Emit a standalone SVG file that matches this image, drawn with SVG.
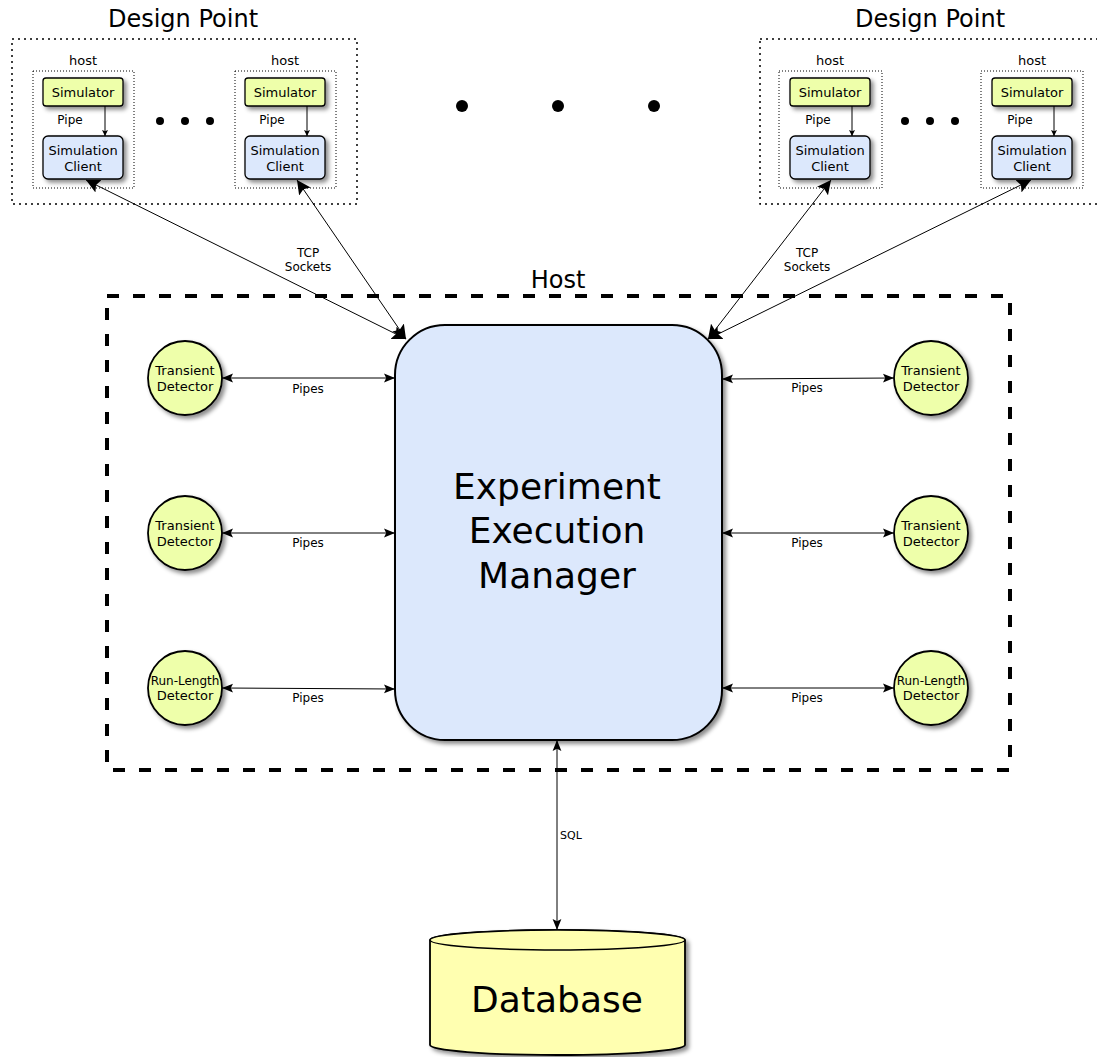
<svg xmlns="http://www.w3.org/2000/svg" width="1097" height="1057" viewBox="0 0 1097 1057">
<defs>
<filter id="sh" x="-20%" y="-20%" width="150%" height="150%"><feDropShadow dx="3" dy="3" stdDeviation="2" flood-color="#000" flood-opacity="0.45"/></filter>
<marker id="ah" viewBox="0 0 10 10" refX="10" refY="5" markerWidth="11" markerHeight="11" markerUnits="userSpaceOnUse" orient="auto-start-reverse"><path d="M0,1 L10,5 L0,9 L2,5 z" fill="#000"/></marker>
<marker id="ahb" viewBox="0 0 10 10" refX="10" refY="5" markerWidth="14" markerHeight="14" markerUnits="userSpaceOnUse" orient="auto-start-reverse"><path d="M0,0 L10,5 L0,10 L2,5 z" fill="#000"/></marker>
<marker id="ahs" viewBox="0 0 10 10" refX="10" refY="5" markerWidth="6" markerHeight="6" markerUnits="userSpaceOnUse" orient="auto"><path d="M0,0 L10,5 L0,10 L2,5 z" fill="#000"/></marker>
</defs>
<style>
text{font-family:"DejaVu Sans",sans-serif;fill:#000;text-anchor:middle}
.dp{fill:none;stroke:#000;stroke-width:1.5;stroke-dasharray:2 4}
.hb{fill:none;stroke:#000;stroke-width:1;stroke-dasharray:1 2}
.sim{fill:#eeffaa;stroke:#000;stroke-width:1.3;filter:url(#sh)}
.cli{fill:#dce8fc;stroke:#000;stroke-width:1.3;filter:url(#sh)}
.det{fill:#eeffaa;stroke:#000;stroke-width:1.8;filter:url(#sh)}
.ln{fill:none;stroke:#000;stroke-width:1}
.s11{font-size:11px}
.s12{font-size:12px}
.s13{font-size:13px}
.s24{font-size:24px}
</style>
<rect width="1097" height="1057" fill="#fff"/>

<g id="designpoint-left">
<text x="183" y="27" class="s24">Design Point</text>
<rect class="dp" x="12" y="39" width="345" height="165"/>
<text x="83" y="65" class="s13">host</text>
<rect class="hb" x="33" y="71" width="101" height="117"/>
<text x="285" y="65" class="s13">host</text>
<rect class="hb" x="235" y="71" width="101" height="117"/>
<circle cx="160" cy="121" r="4"/><circle cx="185" cy="121" r="4"/><circle cx="210" cy="121" r="4"/>
</g>
<g id="sim1"><rect class="sim" x="43" y="78" width="80" height="28" rx="3"/><text x="83" y="97" class="s13">Simulator</text></g>
<g id="cli1"><rect class="cli" x="43" y="136" width="80" height="43" rx="5"/><text x="83" y="155" class="s13">Simulation</text><text x="83" y="171" class="s13">Client</text></g>
<g id="sim2"><rect class="sim" x="245" y="78" width="80" height="28" rx="3"/><text x="285" y="97" class="s13">Simulator</text></g>
<g id="cli2"><rect class="cli" x="245" y="136" width="80" height="43" rx="5"/><text x="285" y="155" class="s13">Simulation</text><text x="285" y="171" class="s13">Client</text></g>

<g id="designpoint-right">
<text x="930" y="27" class="s24">Design Point</text>
<rect class="dp" x="760" y="39" width="350" height="165"/>
<text x="830" y="65" class="s13">host</text>
<rect class="hb" x="779" y="71" width="103" height="117"/>
<text x="1032" y="65" class="s13">host</text>
<rect class="hb" x="981" y="71" width="102" height="117"/>
<circle cx="905" cy="121" r="4"/><circle cx="930" cy="121" r="4"/><circle cx="955" cy="121" r="4"/>
</g>
<g id="sim3"><rect class="sim" x="790" y="78" width="80" height="28" rx="3"/><text x="830" y="97" class="s13">Simulator</text></g>
<g id="cli3"><rect class="cli" x="790" y="136" width="80" height="43" rx="5"/><text x="830" y="155" class="s13">Simulation</text><text x="830" y="171" class="s13">Client</text></g>
<g id="sim4"><rect class="sim" x="992" y="78" width="80" height="28" rx="3"/><text x="1032" y="97" class="s13">Simulator</text></g>
<g id="cli4"><rect class="cli" x="992" y="136" width="80" height="43" rx="5"/><text x="1032" y="155" class="s13">Simulation</text><text x="1032" y="171" class="s13">Client</text></g>

<g id="bigdots"><circle cx="462" cy="106" r="6"/><circle cx="558" cy="106" r="6"/><circle cx="654" cy="106" r="6"/></g>

<g id="host">
<text x="558" y="288" class="s24">Host</text>
<rect x="107" y="296" width="903" height="474" fill="none" stroke="#000" stroke-width="4" stroke-dasharray="12 14"/>
</g>

<g id="eem">
<rect x="395" y="325" width="327" height="415" rx="50" fill="#dce8fc" stroke="#000" stroke-width="2" filter="url(#sh)"/>
<text x="557" y="499" style="font-size:36px">Experiment</text>
<text x="557" y="543" style="font-size:36px">Execution</text>
<text x="557" y="588" style="font-size:36px">Manager</text>
</g>

<g id="det-l1"><circle class="det" cx="185" cy="378" r="37"/><text x="185" y="375" class="s13">Transient</text><text x="185" y="391" class="s13">Detector</text></g>
<g id="det-l2"><circle class="det" cx="185" cy="533" r="37"/><text x="185" y="530" class="s13">Transient</text><text x="185" y="546" class="s13">Detector</text></g>
<g id="det-l3"><circle class="det" cx="185" cy="688" r="37"/><text x="185" y="685" class="s12">Run-Length</text><text x="185" y="700" class="s13">Detector</text></g>
<g id="det-r1"><circle class="det" cx="931" cy="378" r="37"/><text x="931" y="375" class="s13">Transient</text><text x="931" y="391" class="s13">Detector</text></g>
<g id="det-r2"><circle class="det" cx="931" cy="533" r="37"/><text x="931" y="530" class="s13">Transient</text><text x="931" y="546" class="s13">Detector</text></g>
<g id="det-r3"><circle class="det" cx="931" cy="688" r="37"/><text x="931" y="685" class="s12">Run-Length</text><text x="931" y="700" class="s13">Detector</text></g>

<g id="database">
<path d="M430,940 L430,1045 A127.5,10 0 0 0 685,1045 L685,940 A127.5,10 0 0 0 430,940 Z" fill="#ffffb0" stroke="#000" stroke-width="1.8" filter="url(#sh)"/>
<ellipse cx="557.5" cy="940" rx="127.5" ry="10" fill="#ffffb0" stroke="#000" stroke-width="1.5"/>
<text x="557" y="1012" style="font-size:36px">Database</text>
</g>

<g id="connectors">
<line class="ln" x1="105" y1="106" x2="105" y2="136" marker-end="url(#ahs)"/>
<text x="70" y="124" class="s12">Pipe</text>
<line class="ln" x1="307" y1="106" x2="307" y2="136" marker-end="url(#ahs)"/>
<text x="272" y="124" class="s12">Pipe</text>
<line class="ln" x1="852" y1="106" x2="852" y2="136" marker-end="url(#ahs)"/>
<text x="818" y="124" class="s12">Pipe</text>
<line class="ln" x1="1054" y1="106" x2="1054" y2="136" marker-end="url(#ahs)"/>
<text x="1020" y="124" class="s12">Pipe</text>

<line class="ln" x1="86" y1="180" x2="406" y2="339" marker-start="url(#ahb)" marker-end="url(#ahb)"/>
<line class="ln" x1="297" y1="180" x2="406" y2="339" marker-start="url(#ahb)" marker-end="url(#ahb)"/>
<line class="ln" x1="831" y1="180" x2="708" y2="339" marker-start="url(#ahb)" marker-end="url(#ahb)"/>
<line class="ln" x1="1031" y1="180" x2="708" y2="339" marker-start="url(#ahb)" marker-end="url(#ahb)"/>
<text x="308" y="257" class="s12">TCP</text><text x="308" y="271" class="s12">Sockets</text>
<text x="807" y="257" class="s12">TCP</text><text x="807" y="271" class="s12">Sockets</text>

<line class="ln" x1="222" y1="378" x2="395" y2="378" marker-start="url(#ah)" marker-end="url(#ah)"/>
<line class="ln" x1="222" y1="533" x2="395" y2="533" marker-start="url(#ah)" marker-end="url(#ah)"/>
<line class="ln" x1="222" y1="688" x2="395" y2="689" marker-start="url(#ah)" marker-end="url(#ah)"/>
<line class="ln" x1="722" y1="379" x2="894" y2="378" marker-start="url(#ah)" marker-end="url(#ah)"/>
<line class="ln" x1="722" y1="533" x2="894" y2="533" marker-start="url(#ah)" marker-end="url(#ah)"/>
<line class="ln" x1="722" y1="688" x2="894" y2="688" marker-start="url(#ah)" marker-end="url(#ah)"/>
<text x="308" y="393" class="s12">Pipes</text>
<text x="308" y="547" class="s12">Pipes</text>
<text x="308" y="702" class="s12">Pipes</text>
<text x="807" y="392" class="s12">Pipes</text>
<text x="807" y="547" class="s12">Pipes</text>
<text x="807" y="702" class="s12">Pipes</text>

<line class="ln" x1="557" y1="740" x2="557" y2="930" marker-start="url(#ah)" marker-end="url(#ah)"/>
<text x="571" y="839" class="s11">SQL</text>
</g>
</svg>
